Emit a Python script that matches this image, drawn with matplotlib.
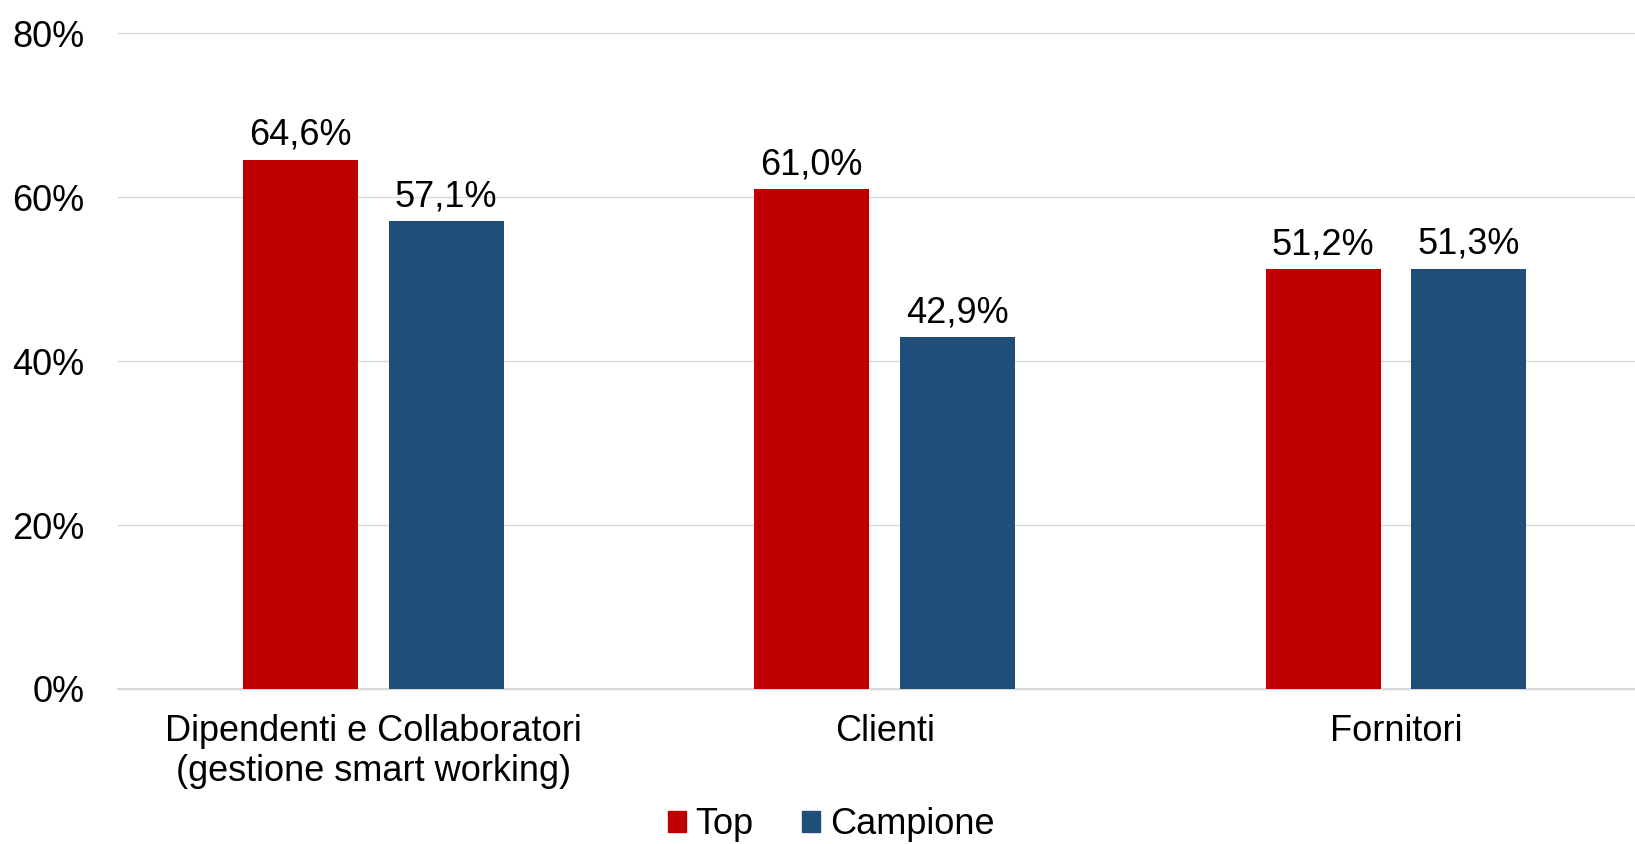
import matplotlib
matplotlib.use("Agg")
import matplotlib.pyplot as plt
from matplotlib.patches import Patch
import numpy as np

plt.rcParams["font.family"] = ["Liberation Sans", "DejaVu Sans"]

categories = ["Dipendenti e Collaboratori\n(gestione smart working)", "Clienti", "Fornitori"]
series_names = ["Top", "Campione"]
top_values = [64.6, 61.0, 51.2]
campione_values = [57.1, 42.9, 51.3]
y_ticks = [0, 20, 40, 60, 80]

RED = "#C00000"
BLUE = "#1F4E79"
GRID = "#D9D9D9"
FS = 26

W, H = 1635, 844
fig = plt.figure(figsize=(W / 100, H / 100), dpi=100)
left, right = 117.5, 1651.7
top, bottom = 33.4, 689.0
ax = fig.add_axes([left / W, 1 - bottom / H, (right - left) / W, (bottom - top) / H])

x = np.arange(len(categories))
bw = 0.225
off = 0.1425
b1 = ax.bar(x - off, top_values, bw, color=RED, zorder=2, label=series_names[0])
b2 = ax.bar(x + off, campione_values, bw, color=BLUE, zorder=2, label=series_names[1])

fmt = lambda v: f"{v:.1f}%".replace(".", ",")
ax.bar_label(b1, labels=[fmt(v) for v in top_values], padding=5, fontsize=FS, zorder=3)
ax.bar_label(b2, labels=[fmt(v) for v in campione_values], padding=5, fontsize=FS, zorder=3)

ax.set_xlim(-0.5, 2.5)
ax.set_ylim(0, 80)
ax.set_yticks(y_ticks)
ax.set_yticklabels([f"{t}%" for t in y_ticks], fontsize=FS)
ax.set_xticks(x)
ax.set_xticklabels(categories, fontsize=FS)
ax.tick_params(axis="y", length=0, pad=24)
ax.tick_params(axis="x", length=0, pad=18)
ax.yaxis.grid(True, color=GRID, linewidth=1.0, zorder=0)
for gl in ax.yaxis.get_gridlines():
    gl.set_clip_on(False)
ax.axhline(0, color=GRID, linewidth=1.5, zorder=1, clip_on=False)
ax.set_axisbelow(True)
for s in ax.spines.values():
    s.set_visible(False)

handles = [Patch(color=RED, label=series_names[0]), Patch(color=BLUE, label=series_names[1])]
fig.legend(handles=handles, loc="center", bbox_to_anchor=(831 / W, 1 - 825 / H),
           ncol=2, frameon=False, fontsize=FS, handlelength=0.5, handleheight=0.5,
           handletextpad=0.28, columnspacing=1.33, borderpad=0)

fig.savefig("out.png", dpi=100)
